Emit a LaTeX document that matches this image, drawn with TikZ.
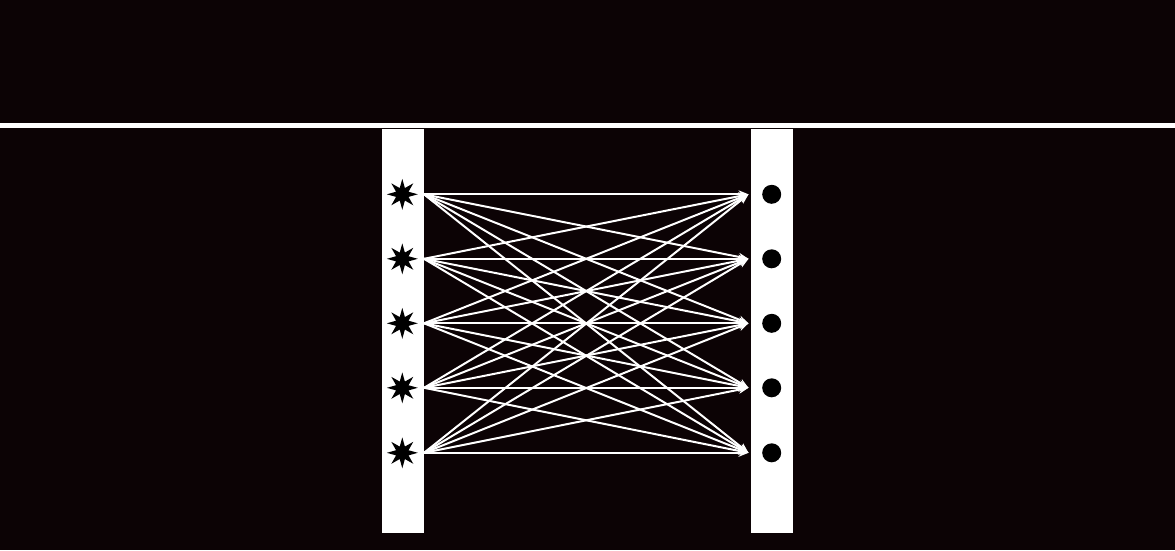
\documentclass[tikz,border=0pt]{standalone}
\usetikzlibrary{shapes.geometric,arrows.meta}
\definecolor{bg}{RGB}{12,3,5}
\tikzset{
  bar/.style={fill=white,draw=none},
  src/.style={star,star points=8,star point ratio=2.3,minimum size=31pt,inner sep=0pt,fill=black,draw=none},
  dst/.style={circle,minimum size=19pt,inner sep=0pt,fill=black,draw=none},
  link/.style={white,line width=2pt,-{Stealth[length=10pt,width=8pt]}}
}
\begin{document}
\begin{tikzpicture}[x=1pt,y=-1pt]
\useasboundingbox (0,0) rectangle (1175,550);
\fill[bg] (0,0) rectangle (1175,550);
\fill[white] (0,123) rectangle (1175,128.3);
\fill[white] (381.5,129) rectangle (424,533);
\fill[white] (751,129) rectangle (793.3,533);
\foreach \i/\y in {1/194.3,2/258.8,3/323.3,4/387.8,5/452.8}{
  \node[src] (s\i) at (402.3,\y) {};
  \node[dst] (c\i) at (771.7,\y) {};
  \coordinate (a\i) at (424,\y);
  \coordinate (b\i) at (748.5,\y);
}
\foreach \i in {1,...,5}{
  \foreach \j in {1,...,5}{
    \draw[link] (a\i) -- (b\j);
  }
}
\end{tikzpicture}
\end{document}
